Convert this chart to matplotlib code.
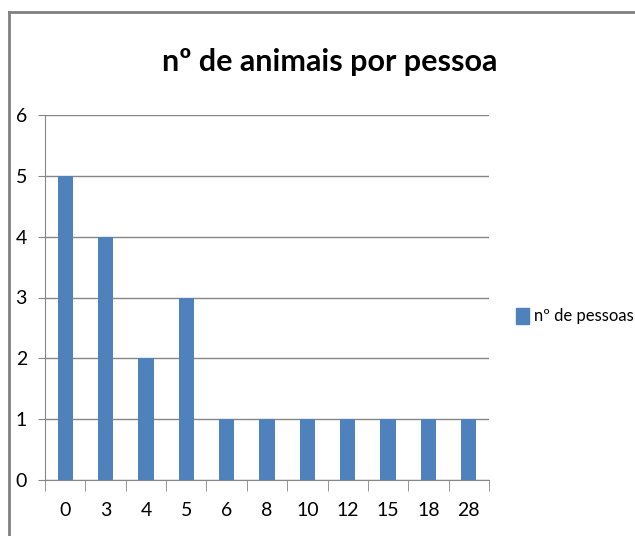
import matplotlib
matplotlib.use("Agg")
import matplotlib.pyplot as plt
from matplotlib.lines import Line2D
from matplotlib.patches import Patch
import numpy as np

plt.rcParams['font.family'] = ['Lato', 'DejaVu Sans']

# animais por pessoa -> número de pessoas
categorias = ["0", "3", "4", "5", "6", "8", "10", "12", "15", "18", "28"]
pessoas = [5, 4, 2, 3, 1, 1, 1, 1, 1, 1, 1]
yticks = [0, 1, 2, 3, 4, 5, 6]

bar_color = "#4F81BD"
grid_color = "#868686"

W, H = 635, 536
fig = plt.figure(figsize=(W / 100, H / 100), dpi=100)
ax = fig.add_axes([45 / W, 1 - 480 / H, (489 - 45) / W, (480 - 115) / H])

x = np.arange(len(categorias))
ax.bar(x, pessoas, width=0.38, color=bar_color, zorder=3)

ax.set_xlim(-0.5, len(categorias) - 0.5)
ax.set_ylim(0, 6)
ax.set_yticks(yticks)
ax.set_yticklabels([str(v) for v in yticks], fontsize=14)
ax.set_xticks(x)
ax.set_xticklabels(categorias, fontsize=14)
ax.tick_params(axis='x', length=0, pad=16)
ax.tick_params(axis='y', length=5, color=grid_color, pad=8)
# category boundary ticks below the x axis
ax.set_xticks(np.arange(len(categorias) + 1) - 0.5, minor=True)
ax.tick_params(axis='x', which='minor', length=8, color=grid_color, direction='out')

ax.yaxis.grid(True, color=grid_color, linewidth=1)
ax.set_axisbelow(True)
for side in ("top", "right"):
    ax.spines[side].set_visible(False)
for side in ("left", "bottom"):
    ax.spines[side].set_color(grid_color)

fig.text(330 / W, 1 - 62 / H, "nº de animais por pessoa", fontsize=22,
         fontweight='bold', ha='center', va='center')

fig.legend(handles=[Patch(color=bar_color)], labels=["nº de pessoas"],
           loc='center left', bbox_to_anchor=(516 / W, 1 - 316 / H),
           borderpad=0, borderaxespad=0,
           frameon=False, fontsize=12, handlelength=0.8, handleheight=1.1,
           handletextpad=0.3)

# outer chart border (top and left edges visible)
fig.add_artist(Line2D([9 / W, 1], [1 - 12 / H, 1 - 12 / H], color="#808080", linewidth=2))
fig.add_artist(Line2D([9 / W, 9 / W], [1 - 12 / H, 0], color="#808080", linewidth=2))

fig.savefig("out.png", dpi=100)
